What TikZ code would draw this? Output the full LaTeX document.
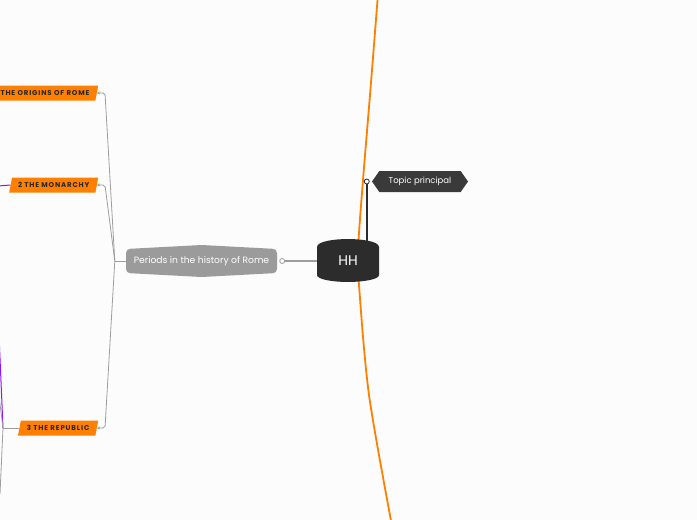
\documentclass[tikz,border=0pt]{standalone}
\usepackage{fontspec}
\setmainfont{Poppins}
\newfontfamily\romecaps[LetterSpace=12]{Poppins}
\usepackage{tikz}
\usetikzlibrary{arrows.meta,shapes.geometric,shapes.symbols,positioning}
\definecolor{bgpaper}{RGB}{252,252,252}
\definecolor{hhdark}{RGB}{44,44,44}
\definecolor{topicgray}{RGB}{58,58,58}
\definecolor{periodgray}{RGB}{155,155,155}
\definecolor{linkgray}{RGB}{158,158,158}
\definecolor{romeorange}{RGB}{255,128,0}
\definecolor{linkviolet}{RGB}{140,20,255}

\begin{document}
\begin{tikzpicture}[x=1pt,y=-1pt,every node/.style={font=\fontsize{8.5}{10}\selectfont},
    romebox/.style={trapezium,trapezium left angle=60,trapezium right angle=120,
      trapezium stretches body,fill=romeorange,text=black!85,inner xsep=6pt,inner ysep=0pt,
      text height=5pt,text depth=0pt,minimum height=15pt,
      font=\romecaps\fontsize{7}{8}\selectfont\bfseries,anchor=east},
    knob/.style={circle,draw=linkgray,fill=white,line width=0.8pt,minimum size=5pt,inner sep=0pt},
    linkline/.style={draw=linkgray,line width=0.8pt},
    romearrow/.style={linkline,rounded corners=2pt,-{Stealth[length=3pt,width=3pt]}}]
      \useasboundingbox (0,0) rectangle (697,520);
      \clip (0,0) rectangle (697,520);
      \fill[bgpaper] (0,0) rectangle (697,520);

      % main orange branch behind the centre
      \draw[romeorange,line width=1.8pt]
        plot[smooth] coordinates {(378,-6) (370,95) (363,180) (358,250) (359,285) (369,395) (392,526)};

      % central topic
      \fill[hhdark] (317,247) .. controls (317,241) and (336,239) .. (348,239)
        .. controls (360,239) and (379,241) .. (379,247) -- (379,275)
        .. controls (379,280) and (360,282) .. (348,282)
        .. controls (336,282) and (317,280) .. (317,275) -- cycle;
      \node[minimum width=62pt,minimum height=36pt,inner sep=0pt,text=white,
            font=\fontsize{14}{16}\selectfont] (hh) at (348,261) {HH};

      \node[signal,signal to=west and east,signal pointer angle=110,fill=topicgray,
            text=white,minimum height=21pt,minimum width=96pt,inner xsep=6pt]
        (topic) at (420,181.5) {Topic principal};
      \node[knob,draw=hhdark] (topknob) at ([xshift=-5pt]topic.west) {};
      \draw[hhdark,line width=2pt] (topknob.south) -- (topknob |- hh.north);

      % periods
      \fill[periodgray,rounded corners=4pt] (126,249) -- (201.5,245) -- (277,249)
        -- (277,273) -- (201.5,277) -- (126,273) -- cycle;
      \node[minimum width=151pt,minimum height=25pt,inner sep=0pt,text=white,
            font=\fontsize{9.2}{11}\selectfont]
        (per) at (201.5,261) {Periods in the history of Rome};
      \node[knob] (perknob) at ([xshift=5pt]per.east) {};
      \draw[linkline,line width=1.2pt] (perknob) -- (hh.west);
      \draw[linkline] (per.west) -- ++(-11,0) coordinate (perjn);

      \node[romebox] (orig) at (97,93) {THE ORIGINS OF ROME};
      \node[romebox] (mon) at (97,185) {2 THE MONARCHY};
      \node[romebox] (rep) at (97,428) {3 THE REPUBLIC};

      \draw[romearrow] (perjn) -- ([xshift=8pt]orig.east) -- (orig.east);
      \draw[romearrow] (perjn) -- ([xshift=8pt]mon.east) -- (mon.east);
      \draw[romearrow] (perjn) -- ([xshift=8pt]rep.east) -- (rep.east);

      % branches running off the left edge
      \coordinate (monoff) at (-2,186);
      \coordinate (repjn) at (3,428);
      \coordinate (violoff) at (-1,335);
      \coordinate (upoff) at (-1,396);
      \coordinate (downoff) at (0,494);
      \draw[linkviolet,line width=1pt] (monoff) -- (mon.west);
      \draw[linkviolet,line width=1pt] (violoff) -- (repjn);
      \draw[linkline] (rep.west) -- (repjn);
      \draw[linkline] (upoff) -- (repjn) -- (downoff);
    \end{tikzpicture}
\end{document}
